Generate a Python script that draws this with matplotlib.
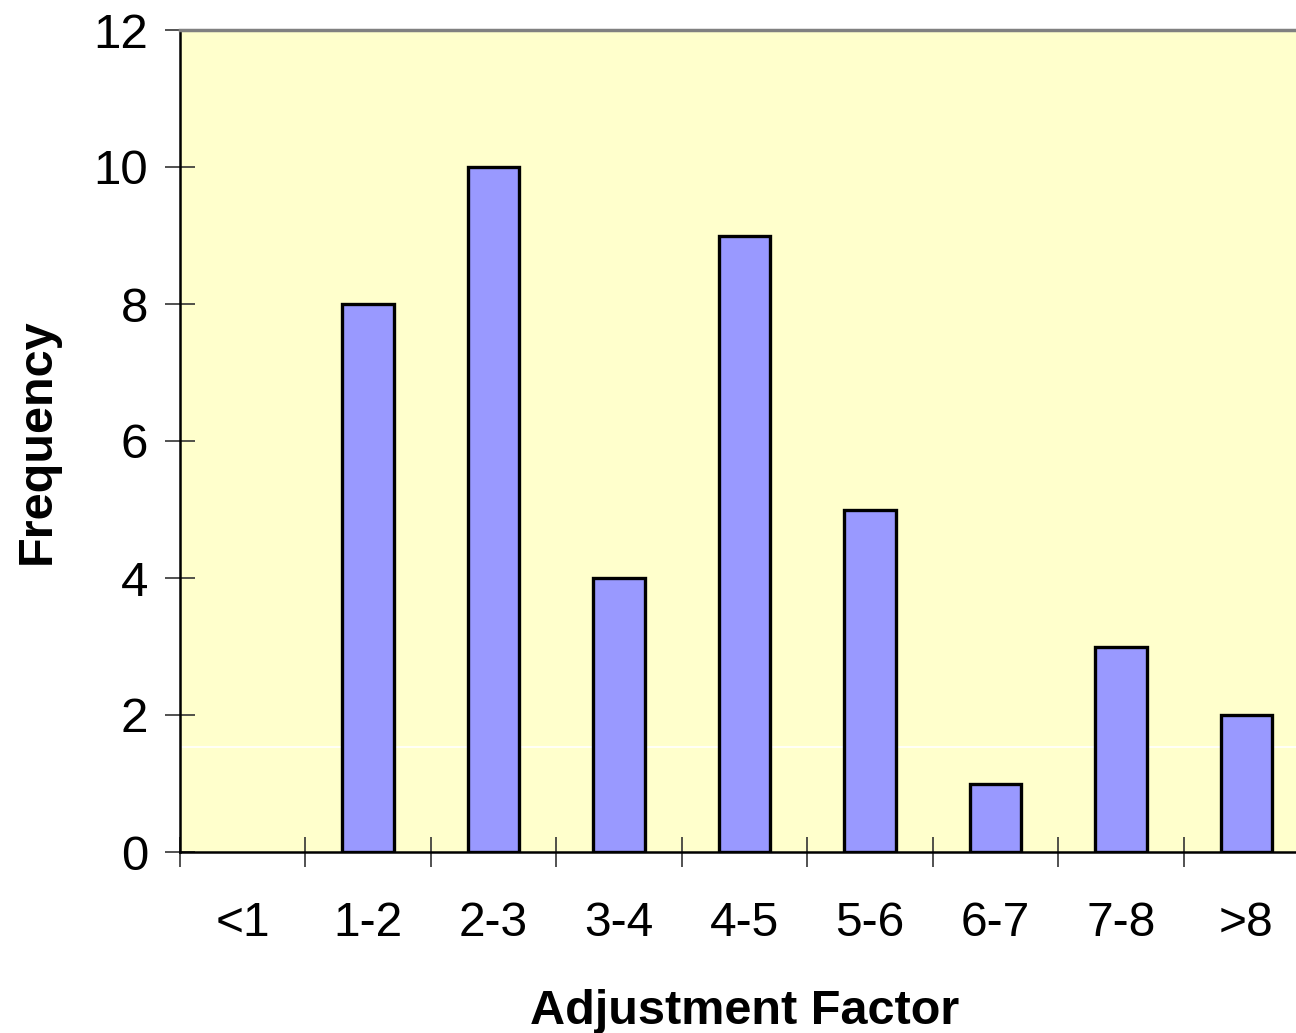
import matplotlib
matplotlib.use("Agg")
import matplotlib.pyplot as plt
import numpy as np

categories = ["<1", "1-2", "2-3", "3-4", "4-5", "5-6", "6-7", "7-8", ">8"]
frequency = [0, 8, 10, 4, 9, 5, 1, 3, 2]
y_ticks = [0, 2, 4, 6, 8, 10, 12]

plt.rcParams['font.family'] = ['Liberation Sans', 'DejaVu Sans']

fig = plt.figure(figsize=(12.96, 10.33), dpi=100)
ax = fig.add_axes([180/1296, 1-852/1033, (1309-180)/1296, (852-30)/1033])
ax.set_facecolor('#FFFFCC')

x = np.arange(len(categories))
ax.axhline(1.54, color='white', lw=1.2, zorder=1)
lws = [2.4 if v > 0 else 0 for v in frequency]
ax.bar(x, frequency, width=0.41, color='#9999FF', edgecolor='black', linewidth=lws, zorder=2)

ax.set_xlim(-0.5, len(categories) - 0.5)
ax.set_ylim(0, 12)
ax.set_yticks(y_ticks)
ax.set_yticklabels([str(v) for v in y_ticks])

ax.set_xticks(np.arange(len(categories)) - 0.5)
ax.set_xticklabels([])
ax.set_xticks(x, minor=True)
ax.set_xticklabels(categories, minor=True)

ax.tick_params(axis='x', which='major', direction='inout', length=21.6, width=1.2, color='#333333')
ax.tick_params(axis='x', which='minor', length=0, pad=35, labelsize=34.5)
ax.tick_params(axis='y', which='major', direction='inout', length=21.6, width=1.2, color='#333333', pad=12, labelsize=35.5)

for s in ['left', 'bottom']:
    ax.spines[s].set_color('black')
    ax.spines[s].set_linewidth(1.8)
ax.spines['top'].set_color('#808080')
ax.spines['top'].set_linewidth(2.5)
ax.spines['right'].set_visible(False)

ax.set_xlabel('Adjustment Factor', fontsize=35, fontweight='bold', labelpad=31)
ax.set_ylabel('Frequency', fontsize=35, fontweight='bold', labelpad=24)

fig.savefig('out.png', dpi=100)
